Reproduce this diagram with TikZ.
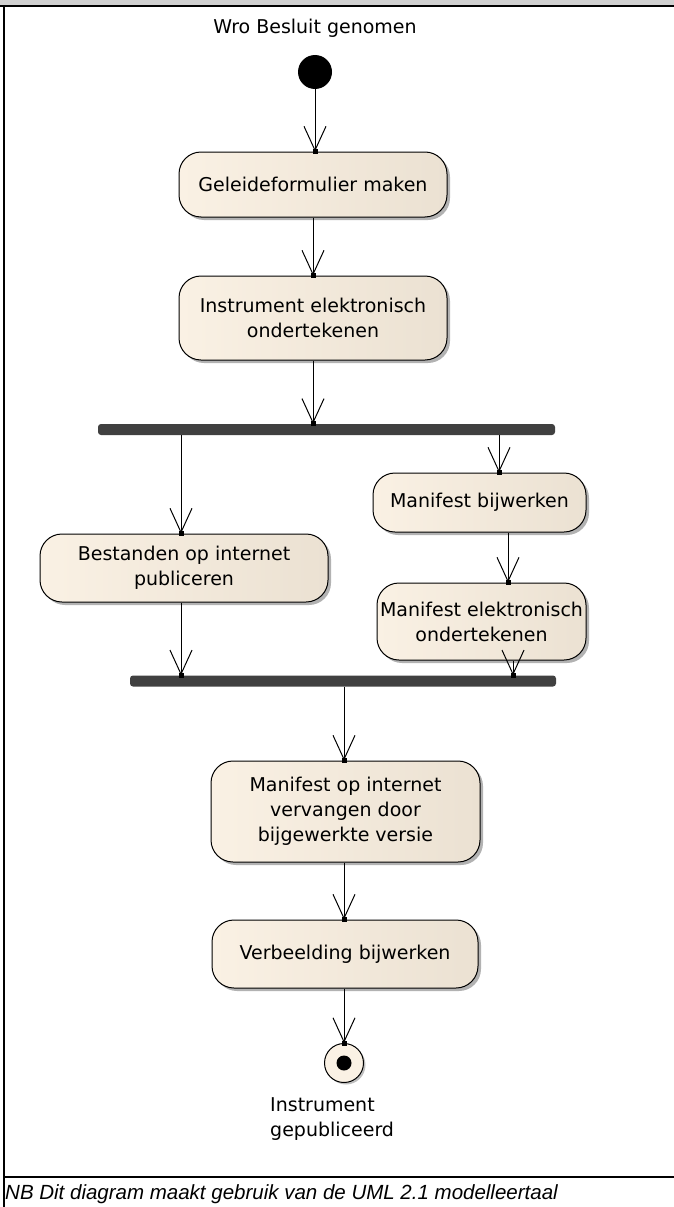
\documentclass[tikz,border=0pt]{standalone}
\usepackage{fontspec}
\setmainfont{DejaVu Sans}
\newfontfamily\capfont{Liberation Sans}
\usetikzlibrary{arrows.meta,shadows}

\definecolor{actleft}{HTML}{FAF1E4}
\definecolor{actright}{HTML}{EBE1D2}
\definecolor{barfill}{HTML}{404040}
\definecolor{headgrey}{HTML}{D0D0D0}

\tikzset{
  diagfont/.style={font=\fontsize{19}{25}\selectfont},
  action/.style={draw=black, line width=1pt, rounded corners=22pt,
    left color=actleft, right color=actright, align=center, inner sep=0pt,
    diagfont,
    drop shadow={shadow xshift=3pt, shadow yshift=-3pt, opacity=0.3, fill=black}},
  syncbar/.style={fill=barfill, rounded corners=3pt, inner sep=0pt,
    minimum height=11pt},
  flow/.style={draw=black, line width=1pt,
    -{Straight Barb[length=24pt,width=22pt,line width=1pt]}},
  tipdot/.style={fill=black, inner sep=0pt, minimum size=5pt},
  startdot/.style={circle, fill=black, inner sep=0pt, minimum size=34pt},
  endring/.style={circle, draw=black, line width=1pt, fill=actleft,
    inner sep=0pt, minimum size=39pt,
    drop shadow={shadow xshift=2pt, shadow yshift=-2pt, opacity=0.25, fill=black}},
  enddot/.style={circle, fill=black, inner sep=0pt, minimum size=15pt},
  notetext/.style={diagfont, inner sep=0pt},
}

\begin{document}
\begin{tikzpicture}[x=1pt, y=-1pt]
  \useasboundingbox (0,0) rectangle (674,1207);

  % frame of the diagram sheet
  \fill[headgrey] (0,0) rectangle (674,5);
  \fill[black] (0,5) rectangle (674,7);
  \fill[black] (3,7) rectangle (5,1207);
  \fill[black] (3,1176) rectangle (674,1178);

  % initial node
  \node[notetext] (startlbl) at (315,28) {Wro Besluit genomen};
  \node[startdot] (init) at (315,72) {};

  % actions
  \node[action, minimum width=268pt, minimum height=65pt] (b1) at (313,184.5)
    {Geleideformulier maken};
  \node[action, minimum width=268pt, minimum height=84pt] (b2) at (313,318)
    {Instrument elektronisch\\ondertekenen};
  \node[syncbar, minimum width=457pt] (fork) at (326.5,429.5) {};
  \node[action, minimum width=288pt, minimum height=68pt] (b3) at (184,568)
    {Bestanden op internet\\publiceren};
  \node[action, minimum width=213pt, minimum height=59pt] (b4) at (479.5,502.5)
    {Manifest bijwerken};
  \node[action, minimum width=209pt, minimum height=77pt] (b5) at (481.5,621.5)
    {Manifest elektronisch\\ondertekenen};
  \node[syncbar, minimum width=426pt] (join) at (343,681) {};
  \node[action, minimum width=269pt, minimum height=101pt] (b6) at (345.5,811.5)
    {Manifest op internet\\vervangen door\\bijgewerkte versie};
  \node[action, minimum width=266pt, minimum height=68pt] (b7) at (345,954)
    {Verbeelding bijwerken};

  % final node
  \node[endring] (fin) at (344,1063) {};
  \node[enddot] (findot) at (fin.center) {};
  \node[notetext, align=left, anchor=north west] (endlbl) at (270,1097)
    {Instrument\\gepubliceerd};

  % connector columns
  \coordinate (xA) at (181,0);
  \coordinate (xB) at (499,0);
  \coordinate (xC) at (508,0);
  \coordinate (xD) at (513,0);
  \coordinate (xE) at (344,0);

  % control flows
  \draw[flow] (init) -- (b1.north -| init) node[tipdot] {};
  \draw[flow] (b1.south) -- (b2.north) node[tipdot] {};
  \draw[flow] (b2.south) -- (fork.north -| b2.south) node[tipdot] {};
  \draw[flow] (fork.south -| xA) -- (b3.north -| xA) node[tipdot] {};
  \draw[flow] (fork.south -| xB) -- (b4.north -| xB) node[tipdot] {};
  \draw[flow] (b4.south -| xC) -- (b5.north -| xC) node[tipdot] {};
  \draw[flow] (b3.south -| xA) -- (join.north -| xA) node[tipdot] {};
  \draw[flow] (b5.south -| xD) -- (join.north -| xD) node[tipdot] {};
  \draw[flow] (join.south -| xE) -- (b6.north -| xE) node[tipdot] {};
  \draw[flow] (b6.south -| xE) -- (b7.north -| xE) node[tipdot] {};
  \draw[flow] (b7.south -| xE) -- (fin.north) node[tipdot] {};

  % footnote
  \node[anchor=base west, inner sep=0pt,
        font=\capfont\itshape\fontsize{20.5}{24}\selectfont] (note) at (5,1199)
    {NB Dit diagram maakt gebruik van de UML 2.1 modelleertaal};
\end{tikzpicture}
\end{document}
